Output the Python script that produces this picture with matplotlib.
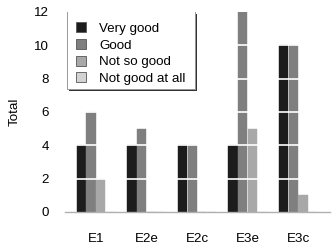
import matplotlib.pyplot as plt
import matplotlib.patches as patches
import matplotlib.lines as mlines
import matplotlib.transforms as mtransforms
import numpy as np

plt.rcParams['font.family'] = ['Liberation Sans', 'DejaVu Sans']

categories = ["E1", "E2e", "E2c", "E3e", "E3c"]
series_names = ["Very good", "Good", "Not so good", "Not good at all"]
very_good = [4, 4, 4, 4, 10]
good = [6, 5, 4, 12, 10]
not_so_good = [2, 0, 0, 5, 1]
not_good_at_all = [0, 0, 0, 0, 0]
colors = ["#1c1c1c", "#7f7f7f", "#a8a8a8", "#d3d3d3"]

values = [very_good, good, not_so_good, not_good_at_all]
fs = 9.6

fig = plt.figure(figsize=(3.32, 2.5), dpi=100)
ax = fig.add_axes([65 / 332, 38 / 250, 265 / 332, 200 / 250])

x = np.arange(len(categories))
w = 0.19
for i, (name, vals) in enumerate(zip(series_names, values)):
    ax.bar(x + (i - 1.5) * w, vals, w * 0.97, color=colors[i], label=name,
           edgecolor=colors[i], linewidth=0.3, zorder=2)

# white grid lines drawn over the bars
for yv in [2, 4, 6, 8, 10]:
    ax.axhline(yv, color="white", linewidth=1.2, zorder=3)

ax.set_ylim(0, 12)
ax.set_xlim(-0.61, 4.63)
ax.set_yticks([0, 2, 4, 6, 8, 10, 12])
ax.set_xticks(x)
ax.set_xticklabels(categories)
ax.tick_params(axis="both", length=0, labelsize=fs)
ax.tick_params(axis="y", pad=11.5)
ax.tick_params(axis="x", pad=15)
ax.set_ylabel("Total", fontsize=fs, labelpad=10)

for s in ["top", "right", "left"]:
    ax.spines[s].set_visible(False)
ax.spines["bottom"].set_color("#b0b0b0")
ax.spines["bottom"].set_linewidth(1.0)

leg = ax.legend(loc="upper left", bbox_to_anchor=(0.0155, 0.981), fontsize=fs,
                frameon=False, handlelength=0.75, handleheight=0.75,
                labelspacing=0.31, borderpad=0.5, borderaxespad=0.0,
                handletextpad=1.0)
leg.set_zorder(7)
for h in leg.legend_handles:
    h.set_edgecolor("#555555")
    h.set_linewidth(0.6)

# legend box: white panel, thin dark shadow, frame on left/bottom/right only
bx0, bx1, by0, by1 = 0.0075, 0.4906, 0.615, 1.0
shadow_tr = mtransforms.offset_copy(ax.transAxes, fig, x=1.6, y=-1.6, units="dots")
ax.add_patch(patches.Rectangle((bx0, by0), bx1 - bx0, by1 - by0, transform=shadow_tr,
                               facecolor="#333333", edgecolor="none", zorder=4.8))
ax.add_patch(patches.Rectangle((bx0, by0), bx1 - bx0, by1 - by0, transform=ax.transAxes,
                               facecolor="white", edgecolor="none", zorder=4.9))
ax.add_line(mlines.Line2D([bx0, bx0, bx1, bx1], [by1, by0, by0, by1],
                          transform=ax.transAxes, color="#999999",
                          linewidth=0.7, zorder=5))

fig.savefig("out.png", dpi=100)
